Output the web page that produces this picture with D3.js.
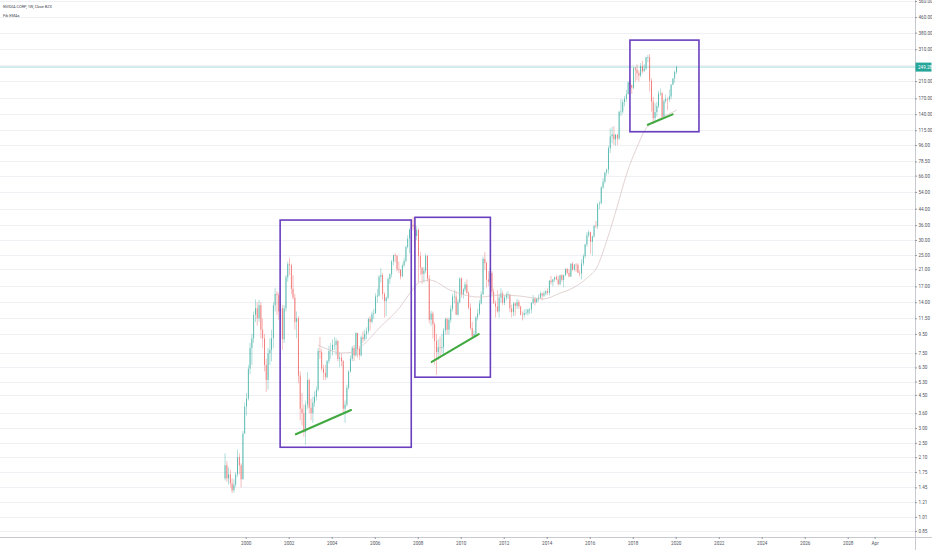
<!DOCTYPE html>
<html><head><meta charset="utf-8">
<script src="https://cdn.jsdelivr.net/npm/d3@7"></script>
<style>
body{margin:0;background:#fff;}
svg{display:block;font-family:Roboto,"Liberation Sans",sans-serif;}
</style>
</head><body>
<svg id="chart" width="932" height="550"></svg>
<script>
// ---------------- DATA ----------------
const title = "NVIDIA CORP, 1W, Cboe BZX";
const indicatorName = "Fib EMAs";
const firstMonth = [1999, 0];          // Jan 1999 (monthly candles)
const firstOpen = 1.62;
const closes = [
 1.90,1.62,1.70,1.52,1.40,1.50,1.70,2.10,1.90,1.60,2.80,3.90,
 4.3,6.2,8.0,9.0,12.0,13.0,11.5,13.5,10.0,9.0,6.5,5.4,
 7.5,7.8,9.0,13.5,15.5,15.3,12.5,13.0,8.9,13.0,19.0,22.3,
 22.0,16.5,14.8,11.0,11.5,5.7,3.8,3.6,2.85,4.0,5.4,3.85,
 3.6,4.1,4.4,4.8,7.7,7.6,6.2,5.9,5.6,6.8,7.7,7.8,
 8.3,8.3,8.7,7.0,7.1,6.8,3.8,4.0,4.9,6.0,7.0,8.0,
 7.3,9.6,7.9,7.3,9.1,8.9,9.5,9.8,11.4,11.0,12.1,12.2,
 15.0,15.2,19.1,19.5,15.5,14.2,14.8,18.6,19.7,23.1,24.9,24.7,
 21.0,20.8,19.2,22.0,23.2,27.5,30.5,34.1,36.2,35.4,31.5,34.0,
 24.6,21.4,19.8,20.6,24.7,18.7,11.3,12.2,10.7,8.7,7.6,8.07,
 8.0,8.1,9.9,11.4,10.0,11.3,12.9,15.0,15.0,12.0,14.0,18.7,
 15.4,16.4,17.4,15.7,13.1,10.2,9.2,9.5,11.6,12.2,13.8,15.4,
 23.8,22.6,18.5,18.0,20.0,15.9,13.8,13.3,12.5,14.8,15.6,13.9,
 14.8,15.4,15.4,13.0,12.4,13.8,13.4,14.0,13.3,12.0,11.97,12.26,
 12.3,12.8,12.8,13.9,14.6,14.0,14.6,14.8,15.6,15.2,15.6,16.0,
 15.7,18.2,17.9,18.5,19.0,18.5,17.5,19.5,18.4,19.5,21.0,20.05,
 19.2,22.4,20.9,22.2,22.1,20.1,19.9,22.5,24.6,28.4,31.7,33.0,
 29.3,31.4,35.6,35.5,46.7,47.0,57.1,61.3,68.5,71.1,92.3,106.7,
 109.2,103.0,108.9,104.0,144.0,144.6,162.5,169.3,178.8,206.8,200.7,193.5,
 245.8,241.4,231.6,224.9,252.3,236.9,244.8,281.0,281.0,210.8,163.4,133.5,
 143.8,154.6,179.6,181.0,135.5,164.2,168.7,167.5,174.1,201.0,216.8,235.3,
 249.28
];
const highs = [
 2.20,2.00,1.85,1.80,1.62,1.60,1.75,2.30,2.20,1.95,2.90,4.10,
 4.6,6.5,8.5,9.5,12.5,14.5,14.0,14.4,14.0,11.5,9.5,7.0,
 8.0,9.0,10.0,14.0,16.7,16.0,15.8,14.0,13.5,13.5,19.5,23.0,
 24.1,22.5,19.5,15.5,12.5,11.8,6.0,4.6,4.0,4.2,5.96,5.5,
 4.3,4.4,4.7,5.0,8.0,9.15,7.9,6.5,6.5,6.9,8.2,8.5,
 8.9,9.15,9.0,8.8,7.6,7.5,6.9,4.2,5.1,6.1,7.3,8.2,
 8.3,9.7,9.6,8.2,9.3,9.8,10.0,10.3,11.6,11.8,12.5,12.9,
 15.6,16.5,19.5,21.2,20.0,15.8,15.0,19.0,20.0,23.5,25.0,25.5,
 25.0,23.0,21.0,22.5,24.0,28.0,31.8,34.5,37.5,39.7,36.0,35.5,
 34.5,26.0,21.5,21.5,25.5,25.0,19.5,12.6,12.5,11.0,9.5,8.9,
 9.2,9.5,10.2,11.6,11.6,11.6,13.5,15.5,16.3,16.0,14.5,19.0,
 19.0,16.6,18.0,18.5,16.0,13.8,11.0,9.9,11.8,12.9,14.4,16.0,
 24.5,25.9,23.0,20.5,21.3,20.5,16.5,14.3,16.2,15.4,16.6,16.1,
 15.2,15.8,16.0,15.4,13.6,14.0,14.0,14.6,14.4,13.4,12.5,12.8,
 12.9,12.9,13.0,14.0,15.3,14.9,14.8,15.4,16.0,15.7,16.0,16.2,
 16.6,18.4,19.3,18.6,19.2,19.5,19.3,19.6,19.8,19.6,21.2,21.3,
 21.0,22.6,22.9,22.4,22.6,22.5,20.7,23.7,25.3,28.6,33.0,33.9,
 33.3,31.6,36.0,37.9,47.0,48.2,58.0,64.0,69.0,72.0,95.0,117.4,
 119.9,120.9,110.0,110.0,146.0,168.5,167.5,175.0,188.0,209.0,217.0,200.0,
 250.0,250.0,257.5,239.0,262.0,269.2,258.0,281.5,289.4,292.8,217.0,173.0,
 160.0,163.0,186.0,192.0,184.0,168.0,178.0,172.0,189.0,202.0,218.0,239.0,
 253.0
];
const lows = [
 1.58,1.55,1.50,1.45,1.35,1.36,1.45,1.65,1.70,1.45,1.60,2.80,
 3.5,4.2,5.8,6.5,8.5,11.0,10.5,11.0,9.0,8.0,6.0,4.67,
 4.8,6.5,6.8,8.0,12.5,12.0,11.3,11.0,7.8,8.5,12.5,18.0,
 19.5,15.5,14.5,10.0,9.0,5.2,3.3,3.1,2.7,2.44,3.8,3.6,
 3.3,3.2,3.9,4.2,4.7,7.0,6.0,5.4,5.4,5.5,6.6,7.0,
 7.3,7.8,7.3,6.8,6.3,6.4,3.6,3.2,3.9,4.8,5.9,6.8,
 6.8,7.2,7.1,6.9,7.2,8.5,8.7,8.9,9.5,9.9,10.8,11.4,
 12.2,13.9,15.0,17.8,14.5,11.6,11.8,14.5,17.5,19.0,22.0,22.8,
 20.5,20.0,18.5,19.0,21.5,22.8,27.0,25.5,33.0,33.8,27.6,30.0,
 17.8,19.5,17.5,17.8,20.0,18.0,10.8,10.5,9.0,6.5,5.75,6.9,
 7.3,7.5,7.4,9.4,9.4,9.4,10.9,12.5,13.8,12.0,11.9,13.8,
 14.8,14.6,16.0,15.5,12.8,10.0,9.15,9.2,9.1,11.2,11.9,13.6,
 15.3,20.8,16.8,17.0,17.6,15.3,13.7,11.6,12.3,11.6,13.9,13.5,
 13.5,14.3,14.6,12.4,11.6,11.8,11.9,12.9,12.9,11.9,11.2,11.6,
 12.0,11.9,12.1,12.2,13.7,13.5,13.9,14.1,14.6,14.3,14.9,15.2,
 15.3,15.2,17.4,17.0,18.0,18.3,17.2,17.2,18.0,16.8,19.2,19.7,
 19.0,19.1,20.6,20.5,20.3,20.0,19.2,18.5,21.8,24.0,27.6,31.0,
 25.3,24.75,30.9,34.8,34.2,43.8,46.5,56.0,60.0,66.0,67.5,87.0,
 98.0,96.0,95.2,96.0,102.0,137.0,141.0,154.0,163.0,179.0,190.0,180.0,
 190.0,208.7,213.0,209.0,220.0,231.0,236.0,240.0,264.0,185.0,144.7,124.5,
 127.0,136.0,151.0,176.0,133.0,132.6,160.0,147.0,163.0,168.0,200.0,206.0,
 229.0
];
// long EMA (decimal year, price)
const emaDates  = [2003.36,2003.92,2004.39,2004.99,2005.55,2006.25,2007.18,2007.64,2008.10,2008.57,2009.50,2010.90,2011.83,2012.76,2013.83,2014.62,2015.22,2015.87,2016.34,2016.80,2017.27,2017.73,2018.20,2018.57,2019.13,2019.87,2020.05];
const emaValues = [8.28,7.79,7.51,7.60,8.48,10.32,13.19,15.65,17.92,18.37,16.25,14.91,15.29,15.10,14.56,15.65,16.66,18.82,21.54,29.97,44.9,68.1,93.6,115.2,130.3,143.7,147.2];
// drawings: rectangles [fromYear, toYear, topPrice, bottomPrice]
const boxes = [[2001.60,2007.70,38.3,2.37],[2007.87,2011.38,39.6,5.59],[2017.87,2021.08,346.9,112.9]];
// trend lines [fromYear, fromPrice, toYear, toPrice]
const trendLines = [[2002.33,2.78,2004.90,3.74],[2008.65,6.74,2010.84,9.47],[2018.70,123.0,2019.86,139.7]];
const yTicks = [560,460,380,310,210,170,140,115,96,78.5,66,54,44,36,30,25,21,17,14,11.5,9.5,7.5,6.3,5.3,4.5,3.6,3.0,2.5,2.1,1.75,1.45,1.21,1.01,0.85];
const hiddenGrid = [255];
const xTickYears = [2000,2002,2004,2006,2008,2010,2012,2014,2016,2018,2020,2022,2024,2026,2028,2029.25];
const xTickLabels = ["2000","2002","2004","2006","2008","2010","2012","2014","2016","2018","2020","2022","2024","2026","2028","Apr"];
const lastPrice = 249.28;

// ---------------- CHART ----------------
const W = 932, H = 550, axisX = 915, axisY = 537;
const svg = d3.select("#chart");
const dy = v => { const yr = Math.floor(v); const s = Date.UTC(yr,0,1), e = Date.UTC(yr+1,0,1); return new Date(s + (v-yr)*(e-s)); };

const x = d3.scaleUtc().domain([dy(2000), dy(2020)]).range([245.7, 675.7]);
const y = d3.scaleLog().domain([0.85, 560]).range([531, 1]);

const upCol = "#26a69a", downCol = "#ef5350";

// grid
const grid = svg.append("g");
grid.selectAll("line").data(yTicks.concat(hiddenGrid)).join("line")
  .attr("x1", 0).attr("x2", axisX).attr("y1", d => Math.round(y(d)) + 0.5).attr("y2", d => Math.round(y(d)) + 0.5)
  .attr("stroke", "#eef0f4").attr("stroke-width", 1);

// candles
const candles = closes.map((c, i) => ({
  date: new Date(Date.UTC(firstMonth[0], firstMonth[1] + i, 15)),
  o: i === 0 ? firstOpen : closes[i-1], h: highs[i], l: lows[i], c
}));
const cg = svg.append("g");
cg.selectAll("line").data(candles).join("line")
  .attr("x1", d => x(d.date)).attr("x2", d => x(d.date))
  .attr("y1", d => y(d.h)).attr("y2", d => y(d.l))
  .attr("stroke", d => d.c >= d.o ? upCol : downCol).attr("stroke-width", 0.6).attr("opacity", 0.62);
cg.selectAll("rect").data(candles).join("rect")
  .attr("x", d => x(d.date) - 0.5).attr("width", 1.0)
  .attr("y", d => y(Math.max(d.o, d.c)))
  .attr("height", d => Math.max(0.6, Math.abs(y(d.o) - y(d.c))))
  .attr("fill", d => d.c >= d.o ? upCol : downCol).attr("opacity", 0.62);

// EMA
const ema = emaDates.map((d, i) => [dy(d), emaValues[i]]);
svg.append("path").datum(ema)
  .attr("d", d3.line().x(d => x(d[0])).y(d => y(d[1])).curve(d3.curveMonotoneX))
  .attr("fill", "none").attr("stroke", "#d6c0bd").attr("stroke-width", 0.7);

// last price line
svg.append("line").attr("x1", 0).attr("x2", axisX)
  .attr("y1", y(lastPrice)).attr("y2", y(lastPrice))
  .attr("stroke", upCol).attr("stroke-opacity", 0.45).attr("stroke-width", 0.9);

// boxes
svg.append("g").selectAll("rect").data(boxes).join("rect")
  .attr("x", d => x(dy(d[0]))).attr("width", d => x(dy(d[1])) - x(dy(d[0])))
  .attr("y", d => y(d[2])).attr("height", d => y(d[3]) - y(d[2]))
  .attr("fill", "none").attr("stroke", "#6a3fbf").attr("stroke-width", 1.6);

// trend lines
svg.append("g").selectAll("line").data(trendLines).join("line")
  .attr("x1", d => x(dy(d[0]))).attr("y1", d => y(d[1]))
  .attr("x2", d => x(dy(d[2]))).attr("y2", d => y(d[3]))
  .attr("stroke", "#3fa83f").attr("stroke-width", 2).attr("stroke-linecap", "round");

// axes separator lines
svg.append("line").attr("x1", axisX + 0.5).attr("x2", axisX + 0.5).attr("y1", 0).attr("y2", H).attr("stroke", "#c8cad0");
svg.append("line").attr("x1", 0).attr("x2", W).attr("y1", axisY + 0.5).attr("y2", axisY + 0.5).attr("stroke", "#c8cad0");

// right price axis
const yAxis = svg.append("g").attr("transform", `translate(${axisX},0)`)
  .call(d3.axisRight(y).tickValues(yTicks).tickFormat(d => d.toFixed(2)).tickSize(2).tickPadding(1.5));
yAxis.select(".domain").remove();
yAxis.selectAll("line").attr("stroke", "#9598a1");
yAxis.selectAll("text").attr("font-size", 4.6).attr("fill", "#50535e").attr("font-family", "Roboto, sans-serif");

// bottom time axis
const xAxis = svg.append("g").attr("transform", `translate(0,${axisY})`)
  .call(d3.axisBottom(x).tickValues(xTickYears.map(dy)).tickFormat((d, i) => xTickLabels[i]).tickSize(2).tickPadding(3));
xAxis.select(".domain").remove();
xAxis.selectAll("line").attr("stroke", "#9598a1");
xAxis.selectAll("text").attr("font-size", 4.6).attr("fill", "#50535e").attr("font-family", "Roboto, sans-serif");

// last price tag
const ly = y(lastPrice);
svg.append("rect").attr("x", axisX + 0.5).attr("y", ly - 4.5).attr("width", W - axisX - 1).attr("height", 9).attr("fill", upCol);
svg.append("text").attr("x", axisX + 3).attr("y", ly).attr("dy", "0.35em")
  .attr("font-size", 4.6).attr("fill", "#fff").text(lastPrice.toFixed(2));

// legend
svg.append("text").attr("x", 3).attr("y", 8).attr("font-size", 3.9).attr("fill", "#434651").text(title);
svg.append("text").attr("x", 3).attr("y", 16.5).attr("font-size", 3.9).attr("fill", "#434651").text(indicatorName);
</script>
</body></html>
